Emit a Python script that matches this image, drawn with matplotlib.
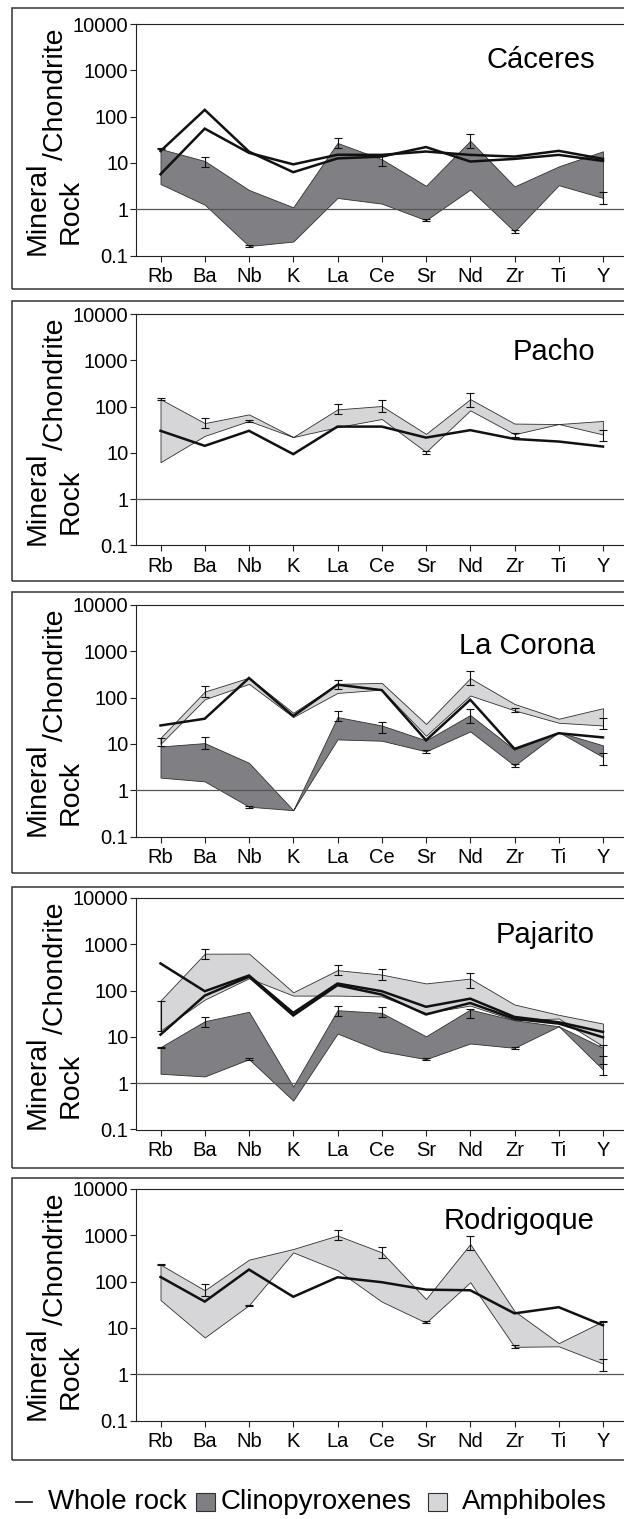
import matplotlib.pyplot as plt
from matplotlib.patches import Rectangle
from matplotlib.lines import Line2D

plt.rcParams['font.family'] = ['Liberation Sans', 'DejaVu Sans']

W, H = 624, 1519

ELEMENTS = ["Rb", "Ba", "Nb", "K", "La", "Ce", "Sr", "Nd", "Zr", "Ti", "Y"]
Y_TICKS = [0.1, 1, 10, 100, 1000, 10000]
Y_TICK_LABELS = ["0.1", "1", "10", "100", "1000", "10000"]

# --- Cáceres ---
caceres_rock_a = [18, 140, 17.5, 6.3, 12.5, 13.7, 22, 10.7, 12.2, 14.9, 11]
caceres_rock_b = [5.7, 55, 16.5, 9.3, 15, 14.9, 17.6, 14.9, 13.7, 18.2, 12.2]
caceres_cpx_hi = [20, 11, 2.6, 1.1, 27, 12, 3.2, 30, 3.1, 8.4, 17.8]
caceres_cpx_lo = [3.5, 1.25, 0.16, 0.2, 1.75, 1.32, 0.58, 2.65, 0.33, 3.3, 1.75]
caceres_err_elem = ["Rb", "Ba", "Nb", "La", "Ce", "Sr", "Nd", "Zr", "Y"]
caceres_err_lo = [19.5, 8.3, 0.15, 21, 8.7, 0.55, 21.5, 0.31, 1.3]
caceres_err_hi = [20.5, 13.5, 0.17, 34.6, 13.8, 0.62, 43, 0.36, 2.3]

# --- Pacho ---
pacho_rock = [30, 14.2, 30, 9.4, 37, 37, 21.4, 31, 20, 17.6, 13.7]
pacho_amph_hi = [145, 44, 68, 22, 87, 103, 25.7, 145, 43, 42, 49]
pacho_amph_lo = [6.3, 23.3, 49, 22, 36, 54, 10.5, 83, 25.3, 42, 25]
pacho_err_elem = ["Rb", "Ba", "Nb", "La", "Ce", "Sr", "Nd", "Zr", "Y"]
pacho_err_lo = [140, 34, 47, 68, 78, 9.6, 97, 22, 18.5]
pacho_err_hi = [150, 56, 51, 116, 137, 11, 200, 27, 32]

# --- La Corona ---
corona_rock = [25, 35, 265, 40, 190, 145, 12, 90, 7.8, 17, 13.8]
corona_amph_hi = [13.5, 135, 270, 47, 198, 208, 27, 263, 73, 35, 59]
corona_amph_lo = [10, 92, 198, 38, 126, 149, 15, 111, 53, 28.6, 25]
corona_cpx_hi = [8.8, 10.4, 3.9, 0.37, 38, 25, 11.9, 42, 7.5, 18, 9.3]
corona_cpx_lo = [1.87, 1.55, 0.44, 0.37, 12.5, 11.7, 6.9, 18.6, 3.4, 18, 5.2]
corona_err_elem = ["Ba", "La", "Nd", "Zr", "Y",
                   "Rb", "Ba", "Nb", "La", "Ce", "Sr", "Nd", "Zr", "Y"]
corona_err_lo = [102, 150, 191, 50, 21,
                 8.8, 7.9, 0.42, 30.5, 17.4, 6.5, 28.6, 3.1, 3.55]
corona_err_hi = [177, 240, 382, 59, 37,
                 13.2, 14, 0.46, 51, 29.6, 7.3, 57, 3.6, 6.4]

# --- Pajarito ---
pajarito_rock_a = [386, 97, 212, 33, 142, 97, 44.7, 67, 27, 20.7, 12.8]
pajarito_rock_b = [11.2, 78, 199, 29, 131, 82, 30.5, 54, 24.5, 19.4, 9.8]
pajarito_amph_hi = [61, 627, 630, 92, 276, 222, 143, 182, 50, 30, 19.4]
pajarito_amph_lo = [13.7, 64, 185, 78, 78, 75, 33, 47.5, 23, 25, 6.3]
pajarito_cpx_hi = [6.0, 21.8, 34.9, 0.85, 37.7, 33, 10.3, 39, 22.9, 17, 5.8]
pajarito_cpx_lo = [1.6, 1.4, 3.3, 0.42, 11.8, 4.9, 3.3, 7.2, 5.8, 17, 1.96]
pajarito_err_elem = ["Rb", "Ba", "La", "Ce", "Nd", "Y",
                     "Rb", "Ba", "Nb", "La", "Ce", "Sr", "Nd", "Zr", "Y"]
pajarito_err_lo = [13.7, 470, 212, 168, 115, 2.65,
                   5.8, 16, 3.1, 28, 27, 3.1, 25, 5.4, 1.5]
pajarito_err_hi = [61, 776, 354, 287, 241, 6.6,
                   6.1, 27, 3.5, 47.5, 44.7, 3.5, 41, 6.2, 3.8]

# --- Rodrigoque ---
rodrigoque_rock = [126, 37, 182, 47, 124, 97, 67, 65, 20.6, 28, 11.4]
rodrigoque_amph_hi = [233, 65, 298, 506, 990, 428, 42, 647, 23, 4.7, 13.9]
rodrigoque_amph_lo = [40, 6.2, 31, 428, 176, 37, 13, 97, 3.9, 4, 1.7]
rodrigoque_err_elem = ["Rb", "Ba", "Nb", "La", "Ce", "Sr", "Nd", "Zr", "Y", "Y"]
rodrigoque_err_lo = [225, 50, 29, 776, 324, 12.5, 489, 3.6, 1.19, 13.5]
rodrigoque_err_hi = [240, 89, 32, 1273, 557, 14, 946, 4.3, 2.1, 14.3]

panels = [
    dict(name="Cáceres", rocks=[caceres_rock_a, caceres_rock_b],
         cpx=(caceres_cpx_lo, caceres_cpx_hi), amph=None,
         err=(caceres_err_elem, caceres_err_lo, caceres_err_hi)),
    dict(name="Pacho", rocks=[pacho_rock],
         cpx=None, amph=(pacho_amph_lo, pacho_amph_hi),
         err=(pacho_err_elem, pacho_err_lo, pacho_err_hi)),
    dict(name="La Corona", rocks=[corona_rock],
         cpx=(corona_cpx_lo, corona_cpx_hi), amph=(corona_amph_lo, corona_amph_hi),
         err=(corona_err_elem, corona_err_lo, corona_err_hi)),
    dict(name="Pajarito", rocks=[pajarito_rock_a, pajarito_rock_b],
         cpx=(pajarito_cpx_lo, pajarito_cpx_hi), amph=(pajarito_amph_lo, pajarito_amph_hi),
         err=(pajarito_err_elem, pajarito_err_lo, pajarito_err_hi)),
    dict(name="Rodrigoque", rocks=[rodrigoque_rock],
         cpx=None, amph=(rodrigoque_amph_lo, rodrigoque_amph_hi),
         err=(rodrigoque_err_elem, rodrigoque_err_lo, rodrigoque_err_hi)),
]

CPX_COLOR = "#808084"
AMPH_COLOR = "#d6d6d8"
EDGE = "#303030"

# layout in pixels
AX_LEFT, AX_RIGHT = 136, 630
AX_TOP = [24, 314, 605, 898, 1189]
AX_H = 231.5
BOX_TOP = [8, 301, 592, 887, 1178]
BOX_BOTTOM = [289, 581, 873, 1168, 1460]
TITLE_BASE = [44, 46, 49, 45, 40]
STEP = 44.25


def fx(x):
    return x / W


def fy(y):
    return 1 - y / H


fig = plt.figure(figsize=(W / 100, H / 100), dpi=100)

xs = list(range(len(ELEMENTS)))
x_left = -(160.5 - AX_LEFT) / STEP
x_right = x_left + (AX_RIGHT - AX_LEFT) / STEP

for k, p in enumerate(panels):
    top = AX_TOP[k]
    ax = fig.add_axes([fx(AX_LEFT), fy(top + AX_H), (AX_RIGHT - AX_LEFT) / W, AX_H / H])
    ax.set_yscale("log")
    ax.set_ylim(0.1, 10000)
    ax.set_xlim(x_left, x_right)

    if p["amph"] is not None:
        lo, hi = p["amph"]
        ax.fill_between(xs, lo, hi, facecolor=AMPH_COLOR, edgecolor=EDGE,
                        linewidth=0.6, zorder=2)
    if p["cpx"] is not None:
        lo, hi = p["cpx"]
        ax.fill_between(xs, lo, hi, facecolor=CPX_COLOR, edgecolor=EDGE,
                        linewidth=0.6, zorder=3)

    ax.axhline(1, color="#555555", linewidth=0.9, zorder=4)

    for rock in p["rocks"]:
        ax.plot(xs, rock, color="#111111", linewidth=1.8, zorder=5,
                solid_joinstyle="miter")

    elems, lows, highs = p["err"]
    for e, lo, hi in zip(elems, lows, highs):
        i = ELEMENTS.index(e)
        c = (lo * hi) ** 0.5
        ax.errorbar(i, c, yerr=[[c - lo], [hi - c]], fmt="none", ecolor="#111111",
                    elinewidth=0.8, capsize=2.6, capthick=0.8, zorder=6)

    ax.set_xticks(xs)
    ax.set_xticklabels(ELEMENTS)
    ax.set_yticks(Y_TICKS)
    ax.set_yticklabels(Y_TICK_LABELS)
    ax.minorticks_off()
    ax.tick_params(axis="x", direction="out", length=4, width=0.8,
                   labelsize=14.5, pad=4, color="#222222")
    ax.tick_params(axis="y", direction="out", length=4, width=0.8,
                   labelsize=14.5, pad=1.5, color="#222222")
    for side in ["left", "bottom", "top"]:
        ax.spines[side].set_linewidth(0.8)
        ax.spines[side].set_color("#222222")
    ax.spines["right"].set_visible(False)
    ax.patch.set_alpha(0)

    ax.text(fx(595), fy(top + TITLE_BASE[k]), p["name"], transform=fig.transFigure,
            ha="right", va="baseline", fontsize=21)

    # stacked axis label: Mineral over Rock, then /Chondrite
    fig.text(fx(44.5), fy(top + 184.5), "Mineral", rotation=90, rotation_mode="anchor",
             ha="center", va="baseline", fontsize=20.5)
    fig.text(fx(77.5), fy(top + 187), "Rock", rotation=90, rotation_mode="anchor",
             ha="center", va="baseline", fontsize=20.5)
    fig.text(fx(63), fy(top + 136), "/Chondrite", rotation=90, rotation_mode="anchor",
             ha="left", va="baseline", fontsize=20.5)

    box = Rectangle((fx(12), fy(BOX_BOTTOM[k])), fx(640) - fx(12),
                    fy(BOX_TOP[k]) - fy(BOX_BOTTOM[k]), transform=fig.transFigure,
                    fill=False, edgecolor="#333333", linewidth=1.1)
    fig.add_artist(box)

# legend row
ly = 1502
fig.add_artist(Line2D([fx(16), fx(32)], [fy(ly), fy(ly)], transform=fig.transFigure,
                      color="#222222", linewidth=1.3))
fig.text(fx(48), fy(ly), "Whole rock", ha="left", va="center", fontsize=20)
fig.add_artist(Rectangle((fx(196), fy(ly + 9)), fx(215) - fx(196), fy(ly - 9) - fy(ly + 9),
                         transform=fig.transFigure, facecolor=CPX_COLOR,
                         edgecolor=EDGE, linewidth=0.8))
fig.text(fx(221), fy(ly), "Clinopyroxenes", ha="left", va="center", fontsize=20)
fig.add_artist(Rectangle((fx(428), fy(ly + 9)), fx(447) - fx(428), fy(ly - 9) - fy(ly + 9),
                         transform=fig.transFigure, facecolor=AMPH_COLOR,
                         edgecolor=EDGE, linewidth=0.8))
fig.text(fx(462), fy(ly), "Amphiboles", ha="left", va="center", fontsize=20)

fig.savefig("out.png", dpi=100)
